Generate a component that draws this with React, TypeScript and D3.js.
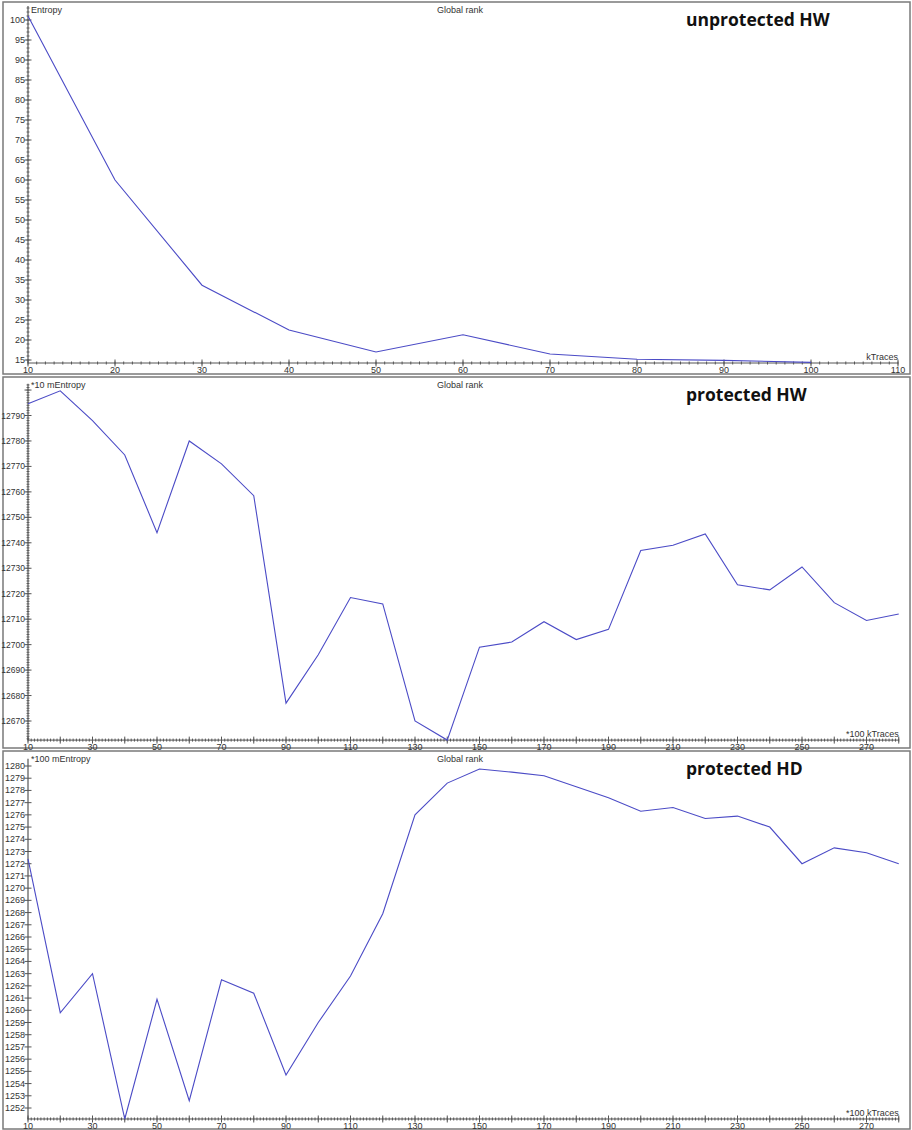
import React from 'react'
import * as d3 from 'd3'

// kTraces (x) for each panel
const X_HW = [10, 20, 30, 40, 50, 60, 70, 80, 90, 100]
const X_PROT = [10, 20, 30, 40, 50, 60, 70, 80, 90, 100, 110, 120, 130, 140,
  150, 160, 170, 180, 190, 200, 210, 220, 230, 240, 250, 260, 270, 280]

// global rank entropy
const UNPROT_HW = [101, 60, 33.7, 22.5, 17, 21.3, 16.5, 15.2, 14.9, 14.4]
const PROT_HW = [12794.6, 12799.7, 12788, 12774.5, 12744, 12780, 12771, 12758.5,
  12677, 12696, 12718.5, 12716, 12670, 12662.5, 12699, 12701, 12709, 12702,
  12706, 12737, 12739, 12743.5, 12723.5, 12721.5, 12730.5, 12716.5, 12709.5, 12712]
const PROT_HD = [1272.4, 1259.8, 1263, 1251.1, 1260.9, 1252.6, 1262.5, 1261.4,
  1254.7, 1259, 1262.8, 1267.9, 1276, 1278.6, 1279.75, 1279.5, 1279.2, 1278.3,
  1277.4, 1276.3, 1276.6, 1275.7, 1275.9, 1275, 1272, 1273.3, 1272.9, 1272]

const TITLES = ['unprotected HW', 'protected HW', 'protected HD']
const Y_NAMES = ['Entropy', '*10 mEntropy', '*100 mEntropy']
const X_NAMES = ['kTraces', '*100 kTraces', '*100 kTraces']

const LINE = '#4b4bc6'
const AXIS = '#555'
const TXT = '#333'
const FONT = '"Liberation Sans", Arial, sans-serif'

type PanelCfg = {
  box: [number, number, number, number]
  xs: number[]
  ys: number[]
  xDom: [number, number]
  xRange: [number, number]
  yDom: [number, number]
  yRange: [number, number]
  yBottom: number
  yTop: number
  xMaxAxis: number
  xLabels: number[]
  xMajor: number
  xMinor: number
  yLabels: number[]
  yMajor: number
  yMinor: number
  yFont: number
  title: string
  yName: string
  xName: string
}

const panels: PanelCfg[] = [
  {
    box: [3, 2, 910, 374],
    xs: X_HW, ys: UNPROT_HW,
    xDom: [10, 110], xRange: [28, 898],
    yDom: [15, 100], yRange: [360, 20],
    yBottom: 14.25, yTop: 103.5, xMaxAxis: 110,
    xLabels: d3.range(10, 111, 10), xMajor: 10, xMinor: 1,
    yLabels: d3.range(15, 101, 5), yMajor: 5, yMinor: 1, yFont: 9,
    title: TITLES[0], yName: Y_NAMES[0], xName: X_NAMES[0]
  },
  {
    box: [3, 377, 910, 748],
    xs: X_PROT, ys: PROT_HW,
    xDom: [10, 280], xRange: [28, 898.75],
    yDom: [12670, 12790], yRange: [721, 415.5],
    yBottom: 12662.5, yTop: 12802.5, xMaxAxis: 280,
    xLabels: d3.range(10, 271, 20), xMajor: 10, xMinor: 1,
    yLabels: d3.range(12670, 12791, 10), yMajor: 10, yMinor: 1, yFont: 8.5,
    title: TITLES[1], yName: Y_NAMES[1], xName: X_NAMES[1]
  },
  {
    box: [3, 751, 910, 1129],
    xs: X_PROT, ys: PROT_HD,
    xDom: [10, 280], xRange: [28, 898.75],
    yDom: [1252, 1280], yRange: [1108, 766],
    yBottom: 1251.1, yTop: 1280.6, xMaxAxis: 280,
    xLabels: d3.range(10, 271, 20), xMajor: 10, xMinor: 1,
    yLabels: d3.range(1252, 1281, 1), yMajor: 1, yMinor: 0, yFont: 9,
    title: TITLES[2], yName: Y_NAMES[2], xName: X_NAMES[2]
  }
]

function Panel({ p }: { p: PanelCfg }) {
  const x = d3.scaleLinear().domain(p.xDom).range(p.xRange)
  const y = d3.scaleLinear().domain(p.yDom).range(p.yRange)
  const [bx0, by0, bx1, by1] = p.box
  const axY = y(p.yBottom)
  const axX = x(p.xDom[0])
  const line = d3.line<number>()
    .x((_, i) => x(p.xs[i]))
    .y(d => y(d))

  const xMinorTicks = d3.range(p.xDom[0], p.xMaxAxis + 0.001, p.xMinor)
  const xMajorTicks = d3.range(p.xDom[0], p.xMaxAxis + 0.001, p.xMajor)
  const yFirst = Math.ceil(p.yBottom)
  const yMinorTicks = p.yMinor ? d3.range(yFirst, p.yTop, p.yMinor) : []
  const yMajorTicks = d3.range(p.yLabels[0], p.yTop, p.yMajor)

  return (
    <g>
      <rect x={bx0} y={by0} width={bx1 - bx0} height={by1 - by0}
        fill="#fff" stroke="#7a7a7a" strokeWidth={1.5} />
      {/* x axis */}
      <line x1={axX} x2={x(p.xMaxAxis)} y1={axY} y2={axY} stroke={AXIS} strokeWidth={1} />
      {xMinorTicks.map(v => (
        <line key={'xm' + v} x1={x(v)} x2={x(v)} y1={axY - 1.5} y2={axY + 1.5}
          stroke={AXIS} strokeWidth={1} />
      ))}
      {xMajorTicks.map(v => (
        <line key={'xM' + v} x1={x(v)} x2={x(v)} y1={axY - 3.5} y2={axY + 3.5}
          stroke={AXIS} strokeWidth={1} />
      ))}
      {p.xLabels.map(v => (
        <text key={'xl' + v} x={x(v)} y={axY + 10} textAnchor="middle"
          fontSize={9} fill={TXT}>{v}</text>
      ))}
      {/* y axis */}
      <line x1={axX} x2={axX} y1={axY} y2={y(p.yTop)} stroke={AXIS} strokeWidth={1.2} />
      {yMinorTicks.map(v => (
        <line key={'ym' + v} x1={axX - 1.5} x2={axX + 1.5} y1={y(v)} y2={y(v)}
          stroke={AXIS} strokeWidth={0.9} />
      ))}
      {yMajorTicks.map(v => (
        <line key={'yM' + v} x1={axX - 3.5} x2={axX + 3.5} y1={y(v)} y2={y(v)}
          stroke={AXIS} strokeWidth={1} />
      ))}
      {p.yLabels.map(v => (
        <text key={'yl' + v} x={axX - 3} y={y(v) + 3} textAnchor="end"
          fontSize={p.yFont} fill={TXT}>{v}</text>
      ))}
      {/* names */}
      <text x={axX + 3} y={by0 + 11} fontSize={9} fill={TXT}>{p.yName}</text>
      <text x={460} y={by0 + 11} fontSize={9} fill={TXT} textAnchor="middle">Global rank</text>
      <text x={x(p.xMaxAxis)} y={axY - 3} fontSize={9} fill={TXT} textAnchor="end">{p.xName}</text>
      <text x={686} y={by0 + 24} fontSize={17.5} fontWeight="bold"
        fontFamily='"Open Sans", sans-serif' fill="#111">{p.title}</text>
      <path d={line(p.ys) ?? ''} fill="none" stroke={LINE} strokeWidth={1.1} />
    </g>
  )
}

export default function App() {
  return (
    <svg width={912} height={1130} fontFamily={FONT}
      style={{ position: 'absolute', left: 0, top: 0, background: '#fff' }}>
      {panels.map((p, i) => <Panel key={i} p={p} />)}
    </svg>
  )
}
